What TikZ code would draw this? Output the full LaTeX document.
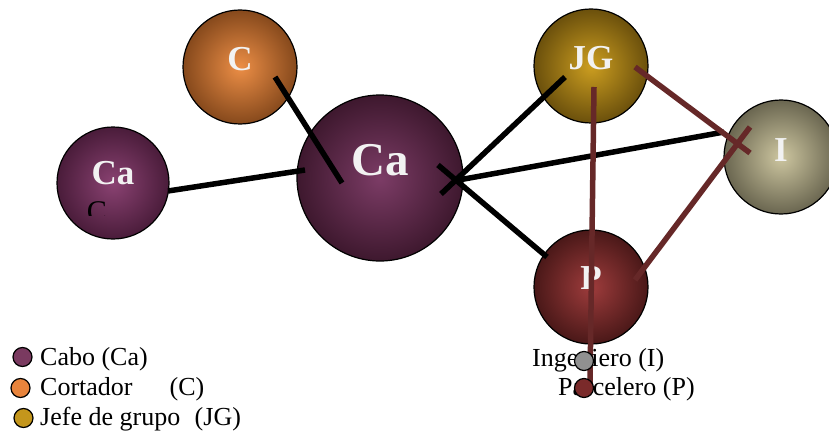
\documentclass[tikz,border=0pt]{standalone}
\usepackage{fontspec}
\setmainfont{Liberation Serif}

\definecolor{caboin}{HTML}{7C3C66}
\definecolor{cabout}{HTML}{3E182E}
\definecolor{cabsmin}{HTML}{8A4272}
\definecolor{cabsmout}{HTML}{4A1C3A}
\definecolor{cortin}{HTML}{EC8E46}
\definecolor{cortout}{HTML}{86491C}
\definecolor{jefein}{HTML}{CC9E20}
\definecolor{jefeout}{HTML}{6B500C}
\definecolor{ingin}{HTML}{CDC6A0}
\definecolor{ingout}{HTML}{6A6650}
\definecolor{parcin}{HTML}{9E3C3C}
\definecolor{parcout}{HTML}{4A1818}
\definecolor{tiered}{HTML}{662828}
\definecolor{tagwhite}{HTML}{F2F2F2}
% legend swatches
\definecolor{keycabo}{HTML}{7A3A60}
\definecolor{keycort}{HTML}{E8843C}
\definecolor{keyjefe}{HTML}{C4961C}
\definecolor{keying}{HTML}{909090}
\definecolor{keyparc}{HTML}{7A2A2A}

\tikzset{
  role/.style={circle, draw=black, line width=1.2pt, shading=radial,
               minimum size=114pt, inner sep=0pt},
  tag/.style={text=tagwhite, font=\bfseries\fontsize{35}{35}\selectfont},
  tie/.style={line width=5.5pt},
  redtie/.style={tie, draw=tiered},
  key/.style={circle, draw=black, line width=1.2pt, minimum size=19pt, inner sep=0pt},
  keytext/.style={anchor=base west, inner sep=0pt, font=\fontsize{26}{26}\selectfont},
}

\begin{document}
\begin{tikzpicture}[x=1pt, y=-1pt]
\clip (0,0) rectangle (829,433);

% the roles
\node[role, inner color=cabsmin, outer color=cabsmout, minimum size=112pt,
      label={[tag, yshift=10pt]center:Ca}] (cabo) at (113,183) {};
\node[role, inner color=caboin, outer color=cabout, minimum size=166pt,
      label={[tag, font=\bfseries\fontsize{47}{47}\selectfont, yshift=18pt]center:Ca}] (cabomain) at (380,178) {};
\node[role, inner color=cortin, outer color=cortout,
      label={[tag, yshift=8pt]center:C}] (cort) at (240,67) {};
\node[role, inner color=jefein, outer color=jefeout,
      label={[tag, yshift=8pt]center:JG}] (jefe) at (591,66) {};
\node[role, inner color=ingin, outer color=ingout,
      label={[tag, yshift=7pt]center:I}] (ing) at (781,157) {};
\node[role, inner color=parcin, outer color=parcout,
      label={[tag, yshift=9pt]center:P}] (parc) at (591,287) {};

% leftover letter under the small Ca
\begin{scope}
  \clip (80,195) rectangle (120,215);
  \node[anchor=base, inner sep=0pt, font=\fontsize{30}{30}\selectfont] (stray) at (97,221) {C};
\end{scope}

% black ties
\draw[tie] ([shift={(55,8)}]cabo.center) -- ([shift={(-75,-8)}]cabomain.center);
\draw[tie] ([shift={(35,10)}]cort.center) -- ([shift={(-38,5)}]cabomain.center);
\draw[tie] ([shift={(61,16)}]cabomain.center) -- ([shift={(-26,11)}]jefe.center);
\draw[tie] ([shift={(58,-13)}]cabomain.center) -- ([shift={(-44,-30)}]parc.center);
\draw[tie] ([shift={(73,3)}]cabomain.center) -- ([shift={(-57,-25)}]ing.center);

% red ties
\draw[redtie] ([shift={(44,1)}]jefe.center) -- ([shift={(-31,-4)}]ing.center);
\draw[redtie] ([shift={(44,-7)}]parc.center) -- ([shift={(-31,-30)}]ing.center);
\draw[redtie] ([shift={(3,21)}]jefe.center) -- ([shift={(-1,96)}]parc.center);

% legend
\node[keytext] (tcabo) at (40,365) {Cabo (Ca)};
\node[keytext] (tcort) at (40,395) {Cortador\hspace{37pt}(C)};
\node[keytext] (tjefe) at (40,425) {Jefe de grupo\hspace{8pt} (JG)};
\node[keytext] (ting) at (532,366) {Ingeniero (I)};
\node[keytext] (tparc) at (558,395) {Parcelero (P)};

\node[key, fill=keycabo] (kcabo) at (22.5,357) {};
\node[key, fill=keycort] (kcort) at (20.5,388) {};
\node[key, fill=keyjefe] (kjefe) at (23.5,418) {};
\node[key, fill=keying] (king) at (584,361) {};
\node[key, fill=keyparc] (kparc) at (584,388) {};

\end{tikzpicture}
\end{document}
